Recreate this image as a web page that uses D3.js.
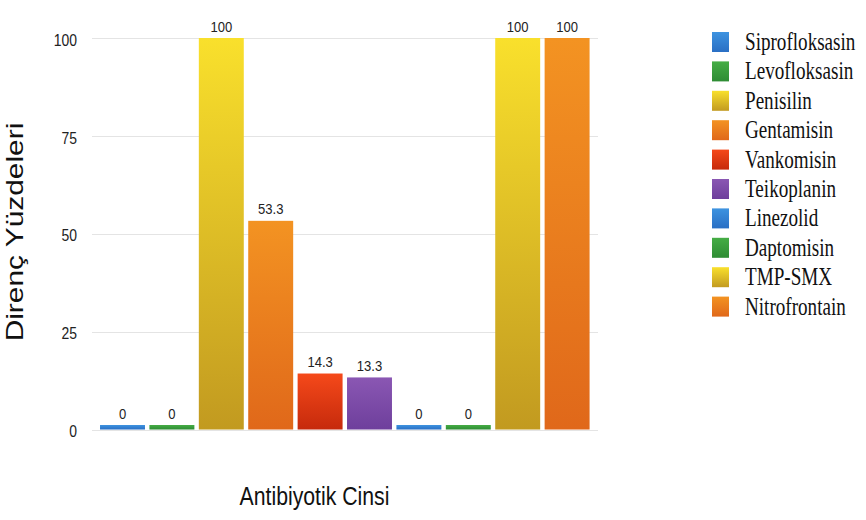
<!DOCTYPE html>
<html><head><meta charset="utf-8">
<script src="https://cdn.jsdelivr.net/npm/d3@7"></script>
<style>body{margin:0;background:#fff}svg{display:block}</style>
</head><body>
<script>
const categories = ["Siprofloksasin","Levofloksasin","Penisilin","Gentamisin","Vankomisin","Teikoplanin","Linezolid","Daptomisin","TMP-SMX","Nitrofrontain"];
const values = [0,0,100,53.3,14.3,13.3,0,0,100,100];
const valueLabels = ["0","0","100","53.3","14.3","13.3","0","0","100","100"];
const yTicks = [0,25,50,75,100];
const colorsTop = ["#3d93e0","#45ad45","#f9e02c","#f39322","#f5491a","#8a57b3","#3d93e0","#45ad45","#f9e02c","#f39322"];
const colorsBottom = ["#2a6fc4","#2e8c34","#c29a20","#e0681a","#c62a0c","#6e3f9c","#2a6fc4","#2e8c34","#c29a20","#e0681a"];

const W=866,H=520;
const svg=d3.select("body").append("svg").attr("width",W).attr("height",H);
const defs=svg.append("defs");
categories.forEach((c,i)=>{
  const g=defs.append("linearGradient").attr("id","g"+i).attr("x1",0).attr("y1",0).attr("x2",0).attr("y2",1);
  g.append("stop").attr("offset","0%").attr("stop-color",colorsTop[i]);
  g.append("stop").attr("offset","100%").attr("stop-color",colorsBottom[i]);
});

const y=d3.scaleLinear().domain([0,100]).range([429.5,38]);
const x=d3.scaleBand().domain(categories).range([97.8,591.8]).paddingInner(0.09).paddingOuter(0.045);

// grid
svg.append("g").selectAll("line").data(yTicks).join("line")
  .attr("x1",92).attr("x2",598)
  .attr("y1",d=>Math.round(y(d))+0.5).attr("y2",d=>Math.round(y(d))+0.5)
  .attr("stroke","#e4e4e4").attr("stroke-width",1);

// y axis
const yAxis=d3.axisLeft(y).tickValues(yTicks).tickSize(0).tickPadding(0);
const ya=svg.append("g").attr("transform","translate(77,0)").call(yAxis);
ya.select(".domain").remove();
ya.selectAll(".tick text").attr("font-family","Liberation Sans, Arial, sans-serif").attr("font-size",16).attr("fill","#222")
  .attr("x",0).attr("dy","0.45em").attr("transform","scale(0.87,1)");

// bars
svg.append("g").selectAll("rect").data(values).join("rect")
  .attr("x",(d,i)=>x(categories[i]))
  .attr("width",x.bandwidth())
  .attr("y",d=>Math.min(y(d),y(0)-4.5))
  .attr("height",d=>Math.max(y(0)-y(d),4.5))
  .attr("fill",(d,i)=>"url(#g"+i+")");

// value labels
svg.append("g").selectAll("text").data(values).join("text")
  .attr("transform",(d,i)=>`translate(${x(categories[i])+x.bandwidth()/2},${Math.min(y(d),y(0)-4.5)-6.5}) scale(0.9,1)`)
  .attr("text-anchor","middle")
  .attr("font-family","Liberation Sans, Arial, sans-serif").attr("font-size",14.5).attr("fill","#222")
  .text((d,i)=>valueLabels[i]);

// axis titles
svg.append("text").attr("transform","translate(23,232) rotate(-90) scale(1.3,1)")
  .attr("text-anchor","middle").attr("font-family","Liberation Sans, Arial, sans-serif")
  .attr("font-size",23).attr("fill","#111").text("Direnç Yüzdeleri");
svg.append("text").attr("transform","translate(314.5,505) scale(0.85,1)")
  .attr("text-anchor","middle").attr("font-family","Liberation Sans, Arial, sans-serif")
  .attr("font-size",25).attr("fill","#111").text("Antibiyotik Cinsi");

// legend
const leg=svg.append("g").attr("transform","translate(712,32)");
const li=leg.selectAll("g").data(categories).join("g").attr("transform",(d,i)=>`translate(0,${i*29.4})`);
li.append("rect").attr("width",17).attr("height",20).attr("fill",(d,i)=>"url(#g"+i+")");
li.append("text").attr("transform","translate(33,18) scale(0.78,1)")
  .attr("font-family","Liberation Serif, Times New Roman, serif").attr("font-size",24.5).attr("fill","#111")
  .text(d=>d);
</script>
</body></html>
